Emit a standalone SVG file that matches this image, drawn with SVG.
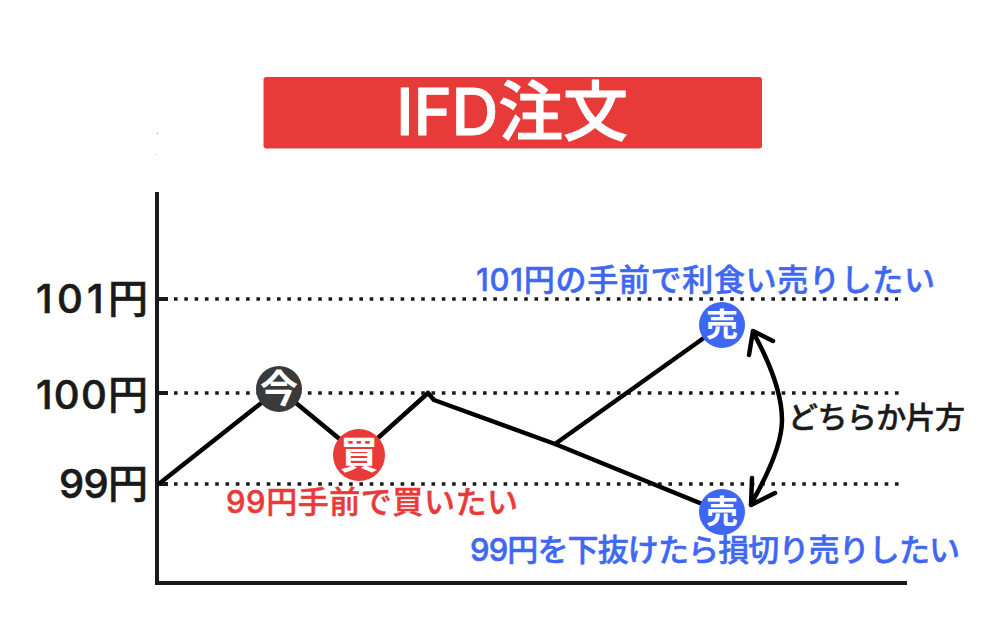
<svg xmlns="http://www.w3.org/2000/svg" width="1000" height="638" viewBox="0 0 1000 638">
<style>
text{font-family:"Inter","Noto Sans CJK JP","Noto Sans",sans-serif;font-weight:500}
.ax{fill:none;stroke:#1a1a1a;stroke-width:4}
.dot{fill:none;stroke:#1a1a1a;stroke-width:3.6;stroke-dasharray:3.6 6.7}
.ln{fill:none;stroke:#000;stroke-width:4.500;stroke-linejoin:round;stroke-linecap:round}
.y{font-size:40px;fill:#1a1a1a;font-weight:500;stroke:#1a1a1a;stroke-width:.6}
.blue{font-size:31px;fill:#3f68f2;stroke:#3f68f2;stroke-width:.5}
.red{font-size:31px;fill:#e93a3a;stroke:#e93a3a;stroke-width:.5}
.blk{font-size:30px;fill:#1a1a1a;stroke:#1a1a1a;stroke-width:.5}
.t{font-size:65px;fill:#fff;stroke:#fff;stroke-width:.9}
.c{fill:#fff;text-anchor:middle;font-weight:700}
</style>
<rect width="1000" height="638" fill="#fff"/>
<g id="title"><rect x="263.500" y="77" width="498.500" height="71.500" rx="3" fill="#e93a3a"/>
<text class="t" x="396" y="135" textLength="232">IFD注文</text></g>
<rect x="157" y="133" width="1" height="1" fill="#999"/>
<rect x="155" y="154" width="1" height="1" fill="#ccc"/>
<g id="connectors">
<path class="ax" d="M157 192V583H907"/>
<path class="ax" d="M157 299H168M157 393H168M157 484H168"/>
<path class="dot" d="M174 299H898M174 393H902M174 484H901"/>
<path class="ln" d="M160 483L279 389L359 455L428 393L434 400L555 444L722 512M555 444L722 325"/>
<path class="ln" d="M753 332Q782 385 782 420Q782 450 751 504M773 341L753 331L749 355M775 493L751 505L752 478"/>
</g>
<g id="axis-labels">
<text class="y" x="36" y="313" textLength="112">101円</text>
<text class="y" x="36" y="409" textLength="112">100円</text>
<text class="y" x="59" y="498" textLength="89">99円</text>
</g>
<g id="node-now"><circle cx="279" cy="389" r="23" fill="#3a3a3a"/><text class="c" x="279" y="402" font-size="38">今</text></g>
<g id="node-buy"><circle cx="359" cy="455" r="26" fill="#e93a3a"/><text class="c" x="359" y="468" font-size="38">買</text></g>
<g id="node-sell-top"><circle cx="722" cy="325" r="23" fill="#3f68f2"/><text class="c" x="722" y="336" font-size="32">売</text></g>
<g id="node-sell-bottom"><circle cx="722" cy="512" r="23" fill="#3f68f2"/><text class="c" x="722" y="523" font-size="32">売</text></g>
<g id="labels">
<text class="blue" x="476" y="291" textLength="459">101円の手前で利食い売りしたい</text>
<text class="red" x="226" y="513" textLength="292">99円手前で買いたい</text>
<text class="blue" x="470" y="561" textLength="490">99円を下抜けたら損切り売りしたい</text>
<text class="blk" x="788" y="428" textLength="177">どちらか片方</text>
</g>
</svg>
